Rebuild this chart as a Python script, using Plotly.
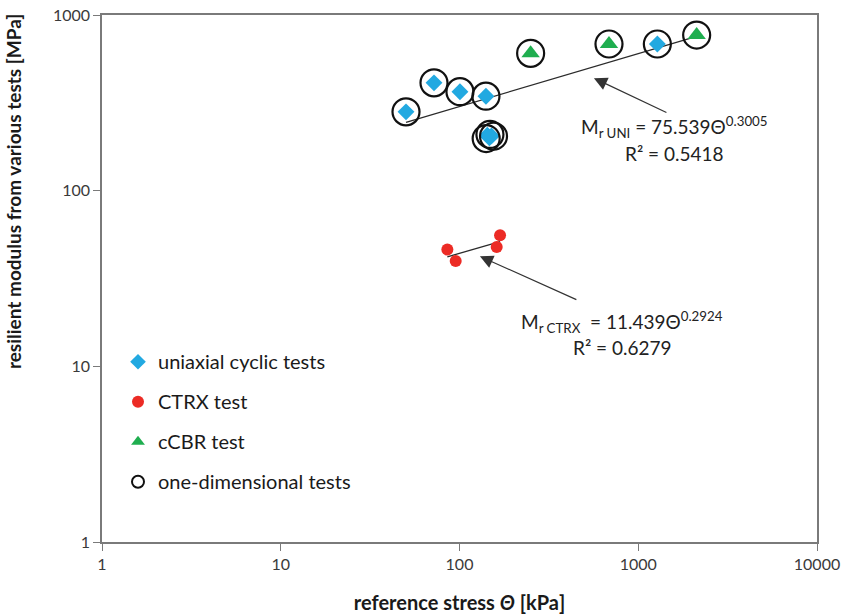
import math
import numpy as np
import plotly.graph_objects as go

# ---- measured data -------------------------------------------------------
uni_theta = [50.2, 72, 100.6, 140.6, 143, 147, 151, 1279]
uni_mr = [281, 411, 366, 345, 207, 200, 205, 684]

ctrx_theta = [85.5, 95.2, 161.5, 168.6]
ctrx_mr = [46.2, 39.8, 47.8, 55.8]

ccbr_theta = [250, 686, 2122]
ccbr_mr = [605, 684, 769]

oned_theta = [50.2, 72, 100.6, 140.6, 141, 148, 155, 1279, 250, 686, 2122]
oned_mr = [281, 411, 366, 345, 198, 209, 204, 684, 605, 684, 769]

# power-law fits  Mr = k * theta^n
uni_k, uni_n, uni_r2 = 75.539, 0.3005, 0.5418
ctrx_k, ctrx_n, ctrx_r2 = 11.439, 0.2924, 0.6279
uni_fit_range = (50.2, 2122)
ctrx_fit_range = (min(ctrx_theta), max(ctrx_theta))

x_ticks = [1, 10, 100, 1000, 10000]
y_ticks = [1, 10, 100, 1000]

FONT = "Lato"
BLUE = "#22a9e1"
RED = "#ec2b25"
GREEN = "#1fae4f"

fig = go.Figure()


def fit_line(k, n, rng):
    t = np.logspace(math.log10(rng[0]), math.log10(rng[1]), 30)
    return t, k * t ** n


for k, n, rng in [(uni_k, uni_n, uni_fit_range), (ctrx_k, ctrx_n, ctrx_fit_range)]:
    t, m = fit_line(k, n, rng)
    fig.add_trace(go.Scatter(x=t, y=m, mode="lines", showlegend=False,
                             line=dict(color="#2b2b2b", width=1.3), hoverinfo="skip"))

fig.add_trace(go.Scatter(x=uni_theta, y=uni_mr, mode="markers", name="uniaxial cyclic tests",
                         legendgroup="a",
                         marker=dict(symbol="diamond", size=13, color=BLUE)))
fig.add_trace(go.Scatter(x=ctrx_theta, y=ctrx_mr, mode="markers", name="CTRX test",
                         legendgroup="b",
                         marker=dict(symbol="circle", size=12, color=RED)))
fig.add_trace(go.Scatter(x=ccbr_theta, y=ccbr_mr, mode="markers", name="cCBR test",
                         legendgroup="c",
                         marker=dict(symbol="triangle-up", size=16, color=GREEN)))
fig.add_trace(go.Scatter(x=oned_theta, y=oned_mr, mode="markers", name="one-dimensional tests",
                         legendgroup="d",
                         marker=dict(symbol="circle-open", size=27, color="#111111",
                                     line=dict(width=2.2, color="#111111"))))

# plot-area geometry in pixels (used only to place text)
PL, PR, PT, PB = 102, 817, 15, 541.7


def paper(px, py):
    return (px - PL) / (PR - PL), (PB - py) / (PB - PT)


annots = []
# arrows
for theta, mr, ax, ay in [(565, 437, 74, 35), (130, 42.3, 98, 44)]:
    annots.append(dict(x=math.log10(theta), y=math.log10(mr), xref="x", yref="y",
                       ax=ax, ay=ay, showarrow=True, arrowhead=2, arrowsize=2.2,
                       arrowwidth=1.2, arrowcolor="#333333", text=""))

eq_font = dict(family=FONT, size=19, color="#222222")
for (px, py), txt in [
    ((674, 127), f"M<sub>r UNI</sub> = {uni_k}Θ<sup style='font-size:12px'>{uni_n}</sup>"),
    ((674, 153), f"R² = {uni_r2}"),
    ((622, 322), f"M<sub>r CTRX</sub>  = {ctrx_k}Θ<sup style='font-size:12px'>{ctrx_n}</sup>"),
    ((622, 347), f"R² = {ctrx_r2}"),
]:
    x, y = paper(px, py)
    annots.append(dict(x=x, y=y, xref="paper", yref="paper", text=txt, showarrow=False,
                       font=eq_font, xanchor="center", yanchor="middle"))

# y-axis title
x, y = paper(13, 192)
annots.append(dict(x=x, y=y, xref="paper", yref="paper", textangle=-90, showarrow=False,
                   text="<b>resilient modulus from various tests [MPa]</b>",
                   font=dict(family=FONT, size=19, color="#1a1a1a"),
                   xanchor="center", yanchor="middle"))

axis_common = dict(type="log", showgrid=False, zeroline=False, showline=True,
                   linecolor="#7a7a7a", linewidth=1.6, mirror=True, ticks="outside",
                   ticklen=7, tickwidth=1.4, tickcolor="#7a7a7a", automargin=False,
                   tickfont=dict(family=FONT, size=16, color="#3a3a3a"))

fig.update_xaxes(range=[0, 4], tickvals=x_ticks, ticktext=[str(v) for v in x_ticks],
                 title=dict(text="<b>reference stress <i>Θ</i> [kPa]</b>",
                            font=dict(family=FONT, size=20, color="#1a1a1a"), standoff=24),
                 **axis_common)
fig.update_yaxes(range=[0, 3], tickvals=y_ticks, ticktext=[str(v) for v in y_ticks],
                 **axis_common)

lx, ly = paper(118, 342)
fig.update_layout(
    width=849, height=616,
    margin=dict(l=PL, r=849 - PR, t=PT, b=616 - PB, autoexpand=False),
    plot_bgcolor="white", paper_bgcolor="white",
    annotations=annots,
    legend=dict(x=lx, y=ly, xanchor="left", yanchor="top", bgcolor="rgba(0,0,0,0)",
                font=dict(family=FONT, size=20, color="#1a1a1a"), tracegroupgap=11,
                itemsizing="constant", itemwidth=30),
    font=dict(family=FONT),
)

fig.write_html("out.html")
